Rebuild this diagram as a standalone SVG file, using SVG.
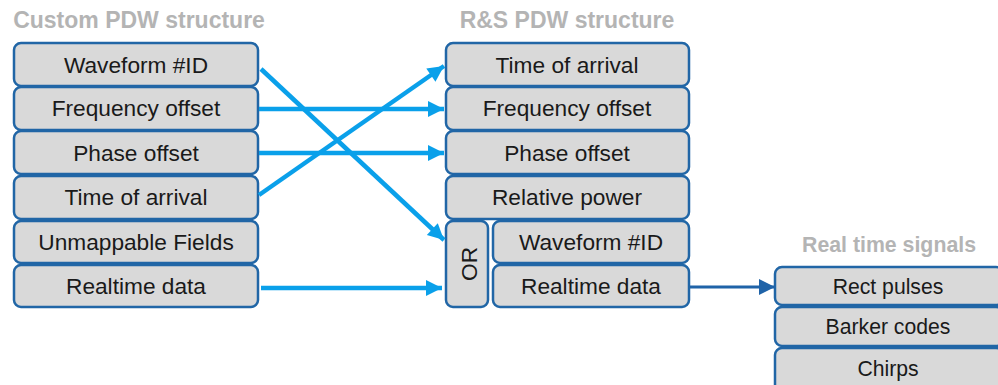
<svg xmlns="http://www.w3.org/2000/svg" width="998" height="385" viewBox="0 0 998 385">
<defs>
<style>
.box{fill:#d9d9d9;stroke:#2166a6;stroke-width:2.5}
.t{font-family:"Liberation Sans",Arial,sans-serif;font-size:22.7px;fill:#1a1a1a;text-anchor:middle}
.s{font-family:"Liberation Sans",Arial,sans-serif;font-size:21.2px;fill:#1a1a1a;text-anchor:middle}
.h{font-family:"Liberation Sans",Arial,sans-serif;font-size:23px;font-weight:bold;fill:#b4b4b4;text-anchor:middle}
.h2{font-size:21.3px}
.c{stroke:#0aa0ea;stroke-width:4.5;fill:none}
.d{stroke:#1f63a8;stroke-width:3;fill:none}
</style>
<marker id="ah" viewBox="0 0 10 10" refX="10" refY="5" markerWidth="18" markerHeight="16" markerUnits="userSpaceOnUse" orient="auto"><path d="M0,0 L10,5 L0,10 z" fill="#0aa0ea"/></marker>
<marker id="ahd" viewBox="0 0 10 10" refX="10" refY="5" markerWidth="18" markerHeight="16" markerUnits="userSpaceOnUse" orient="auto"><path d="M0,0 L10,5 L0,10 z" fill="#1f63a8"/></marker>
</defs>
<rect width="998" height="385" fill="#ffffff"/>

<text class="h" x="139" y="28">Custom PDW structure</text>
<text class="h" x="567" y="28">R&amp;S PDW structure</text>
<text class="h h2" x="889" y="252">Real time signals</text>

<g id="L1"><rect class="box" x="14" y="43" width="244" height="43" rx="7"/><text class="t" x="136" y="73">Waveform #ID</text></g>
<g id="L2"><rect class="box" x="14" y="87" width="244" height="43" rx="7"/><text class="t" x="136" y="116">Frequency offset</text></g>
<g id="L3"><rect class="box" x="14" y="131" width="244" height="43" rx="7"/><text class="t" x="136" y="161">Phase offset</text></g>
<g id="L4"><rect class="box" x="14" y="176" width="244" height="43" rx="7"/><text class="t" x="136" y="205">Time of arrival</text></g>
<g id="L5"><rect class="box" x="14" y="221" width="244" height="42" rx="7"/><text class="t" x="136" y="250">Unmappable Fields</text></g>
<g id="L6"><rect class="box" x="14" y="265" width="244" height="42" rx="7"/><text class="t" x="136" y="294">Realtime data</text></g>

<g id="R1"><rect class="box" x="446" y="43" width="243" height="43" rx="7"/><text class="t" x="567" y="73">Time of arrival</text></g>
<g id="R2"><rect class="box" x="446" y="87" width="243" height="43" rx="7"/><text class="t" x="567" y="116">Frequency offset</text></g>
<g id="R3"><rect class="box" x="446" y="131" width="243" height="43" rx="7"/><text class="t" x="567" y="161">Phase offset</text></g>
<g id="R4"><rect class="box" x="446" y="176" width="243" height="43" rx="7"/><text class="t" x="567" y="205">Relative power</text></g>
<g id="OR"><rect class="box" x="446" y="221" width="42" height="86" rx="7"/><text class="t" transform="translate(477,264) rotate(-90)" x="0" y="0">OR</text></g>
<g id="R5"><rect class="box" x="493" y="221" width="196" height="42" rx="7"/><text class="t" x="591" y="250">Waveform #ID</text></g>
<g id="R6"><rect class="box" x="493" y="265" width="196" height="42" rx="7"/><text class="t" x="591" y="294">Realtime data</text></g>

<g id="S1"><rect class="box" x="775" y="267" width="228" height="38" rx="7"/><text class="s" x="888" y="294">Rect pulses</text></g>
<g id="S2"><rect class="box" x="775" y="307" width="228" height="39" rx="7"/><text class="s" x="888" y="334">Barker codes</text></g>
<g id="S3"><rect class="box" x="775" y="348" width="228" height="45" rx="7"/><text class="s" x="888" y="376">Chirps</text></g>

<g id="connectors">
<line class="c" x1="261" y1="69" x2="444" y2="240" marker-end="url(#ah)"/>
<line class="c" x1="259" y1="109" x2="444" y2="109" marker-end="url(#ah)"/>
<line class="c" x1="259" y1="153" x2="444" y2="153" marker-end="url(#ah)"/>
<line class="c" x1="259" y1="195" x2="444" y2="66" marker-end="url(#ah)"/>
<line class="c" x1="261" y1="288" x2="442" y2="288" marker-end="url(#ah)"/>
<line class="d" x1="690" y1="287" x2="775" y2="287" marker-end="url(#ahd)"/>
</g>
</svg>
